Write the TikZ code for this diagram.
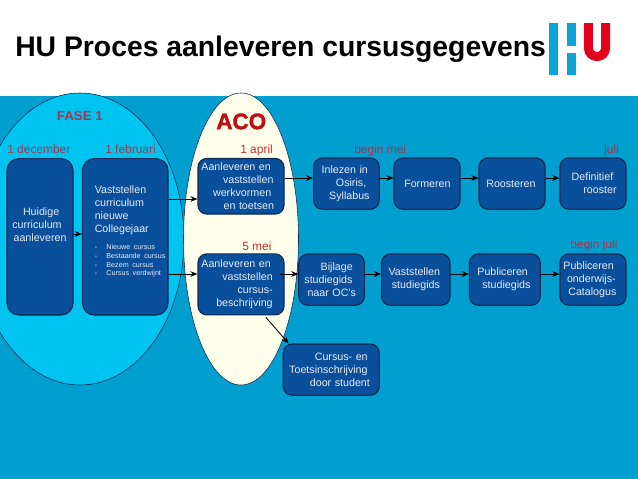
\documentclass[tikz,border=0pt]{standalone}
\usepackage{xcolor}
\usepackage{fontspec}
\setmainfont{Liberation Sans}
\newfontfamily\acofont{Liberation Sans}[BoldFeatures={FakeBold=1.6}]
\usetikzlibrary{shapes.geometric, arrows.meta}
\definecolor{hublue}{HTML}{009FD0}
\definecolor{hucyan}{HTML}{00C4F0}
\definecolor{hucream}{HTML}{FFFEEB}
\definecolor{hubox}{HTML}{0A4F9C}
\definecolor{hubord}{HTML}{0B2A55}
\definecolor{hutext}{HTML}{E4ECF6}
\definecolor{hudate}{HTML}{A8344A}
\definecolor{hudateb}{HTML}{C62F2F}
\definecolor{huaco}{HTML}{BE1010}
\definecolor{hured}{HTML}{E2001A}
\definecolor{hulogo}{HTML}{0DA5D8}
\newcommand{\ind}[1]{\hspace*{#1pt}}

\begin{document}
\begin{tikzpicture}[
      box/.style={draw=hubord, fill=hubox, thick, rounded corners=0.22cm, text=hutext, align=left, inner xsep=1pt, inner ysep=0pt, text width=#1cm-2pt, font=\fontsize{7.6}{9.2}\selectfont},
      tallbox/.style={box=#1, rounded corners=0.3cm, minimum height=3.91cm},
      acobox/.style={box=2.15, minimum height=1.39cm},
      rowbox/.style={box=#1, minimum height=1.28cm},
      area/.style={draw=hubord, ellipse, inner sep=0pt, minimum height=7.3cm},
      a/.style={-{Stealth[length=5pt,width=4pt]}, semithick, draw=black},
      lbl/.style={anchor=base west, inner sep=0pt, font=\fontsize{8.5}{10}\selectfont},
      date/.style={lbl, text=hudate},
      dateb/.style={lbl, text=hudateb},
      logo/.style={fill=hulogo, draw=none}
    ]
    \useasboundingbox (0,0) rectangle (15.95,-11.975);

    % ---- Title and logo ----
    \node[anchor=base west, inner sep=0pt, font=\fontsize{20.15}{24}\bfseries\selectfont] (title) at (0.375,-1.4) {HU Proces aanleveren cursusgegevens};
    \fill[logo] (13.73,-0.575) rectangle (13.96,-1.875);
    \fill[logo] (14.18,-0.575) rectangle (14.39,-1.14);
    \fill[logo] (14.18,-1.33) rectangle (14.39,-1.875);
    \draw[hured, line width=0.225cm] (14.71,-0.575) -- (14.71,-1.2) arc[start angle=180, end angle=360, radius=0.215] -- (15.14,-0.575);

    % ---- Background and the two areas ----
    \fill[hublue] (0,-2.4) rectangle (15.95,-11.975);
    \node[area, fill=hucyan, minimum width=5.2cm] (fase) at (2.0,-5.975) {};
    \node[area, fill=hucream, minimum width=2.875cm] (aco) at (6.025,-5.975) {};

    % ---- Rows for the arrows ----
    \coordinate (rowa) at (0,-4.45);
    \coordinate (rowb) at (0,-4.975);
    \coordinate (rowc) at (0,-5.85);
    \coordinate (rowd) at (0,-6.85);

    % ---- Fase 1 ----
    \node[tallbox=1.65] (huidige) at (1.0,-5.92) {\ind{10.4}Huidige\\\ind{2.8}curriculum\\\ind{3.7}aanleveren\\[8pt]~};
    \node[tallbox=2.14] (curric) at (3.13,-5.92) {\ind{7.8}Vaststellen\\\ind{7.8}curriculum\\\ind{7.8}nieuwe\\\ind{7.8}Collegejaar\\[6pt]
      \fontsize{5.1}{6.2}\selectfont\ind{7.8}\makebox[8.3pt][l]{-}Nieuwe cursus\\\ind{7.8}\makebox[8.3pt][l]{-}Bestaande cursus\\\ind{7.8}\makebox[8.3pt][l]{-}Bezem cursus\\\ind{7.8}\makebox[8.3pt][l]{-}Cursus verdwijnt\\[-1pt]~};

    % ---- ACO ----
    \node[acobox] (werkv) at (6.025,-4.656) {\ind{1.4}Aanleveren en\\\ind{16.8}vaststellen\\\ind{9.7}werkvormen\\\ind{17.2}en toetsen};
    \node[acobox, minimum height=1.525cm] (beschr) at (6.025,-7.11) {\ind{1.4}Aanleveren en\\\ind{16.3}vaststellen\\\ind{27.2}cursus-\\\ind{12}beschrijving};

    % ---- Row 1 ----
    \node[rowbox=1.64] (osiris) at (8.66,-4.59) {\ind{4.7}Inlezen in\\\ind{14.9}Osiris,\\\ind{10.1}Syllabus};
    \node[rowbox=1.65] (form) at (10.675,-4.59) {\ind{6.3}Formeren};
    \node[rowbox=1.65] (roost) at (12.8,-4.59) {\ind{4.2}Roosteren};
    \node[rowbox=1.65] (defin) at (14.825,-4.59) {\ind{7.3}Definitief\\\ind{15.6}rooster};

    % ---- Row 2 ----
    \node[rowbox=1.64] (bijlage) at (8.29,-6.99) {\ind{14.6}Bijlage\\\ind{3}studiegids\\\ind{5.2}naar OC's};
    \node[rowbox=1.71] (vaststud) at (10.395,-6.99) {\ind{4}Vaststellen\\\ind{6.3}studiegids};
    \node[rowbox=1.77] (pubstud) at (12.62,-6.99) {\ind{4.7}Publiceren\\\ind{8.2}studiegids};
    \node[rowbox=1.65] (pubond) at (14.825,-6.99) {\ind{1.4}Publiceren\\\ind{4}onderwijs-\\\ind{4.9}Catalogus};

    \node[rowbox=2.4] (inschr) at (8.28,-9.24) {\ind{21.5}Cursus- en\\\ind{3.3}Toetsinschrijving\\\ind{18}door student};

    % ---- Labels ----
    \node[lbl, text=hudate, font=\fontsize{9.4}{11}\bfseries\selectfont] (fasel) at (1.42,-3.02) {FASE 1};
    \node[lbl, text=huaco, font=\acofont\fontsize{16}{18}\bfseries\selectfont] (acol) at (5.4,-3.23) {ACO};
    \node[date] (dec) at (0.175,-3.825) {1 december};
    \node[date] (feb) at (2.625,-3.825) {1 februari};
    \node[dateb] (apr) at (6.0,-3.825) {1 april};
    \node[dateb] (mei) at (6.05,-6.27) {5 mei};
    \node[date] (bmei) at (8.85,-3.825) {begin mei};
    \node[date] (jul) at (15.1,-3.825) {juli};
    \node[date] (bjul) at (14.25,-6.21) {begin juli};

    % ---- Arrows ----
    \draw[a] (huidige.east |- rowc) -- (curric.west |- rowc);
    \draw[a] (curric.east |- rowb) -- (werkv.west |- rowb);
    \draw[a] (curric.east |- rowd) -- (beschr.west |- rowd);
    \draw[a] (werkv.east |- rowa) -- (osiris.west |- rowa);
    \draw[a] (osiris.east |- rowa) -- (form.west |- rowa);
    \draw[a] (form.east |- rowa) -- (roost.west |- rowa);
    \draw[a] (roost.east |- rowa) -- (defin.west |- rowa);
    \draw[a] ([xshift=-0.125cm]beschr.east |- rowd) -- (bijlage.west |- rowd);
    \draw[a] (bijlage.east |- rowd) -- (vaststud.west |- rowd);
    \draw[a] (vaststud.east |- rowd) -- (pubstud.west |- rowd);
    \draw[a] (pubstud.east |- rowd) -- (pubond.west |- rowd);
    \draw[a] ([xshift=0.625cm,yshift=-0.05cm]beschr.south) -- ([xshift=0.15cm]inschr.north west);

\end{tikzpicture}
\end{document}
